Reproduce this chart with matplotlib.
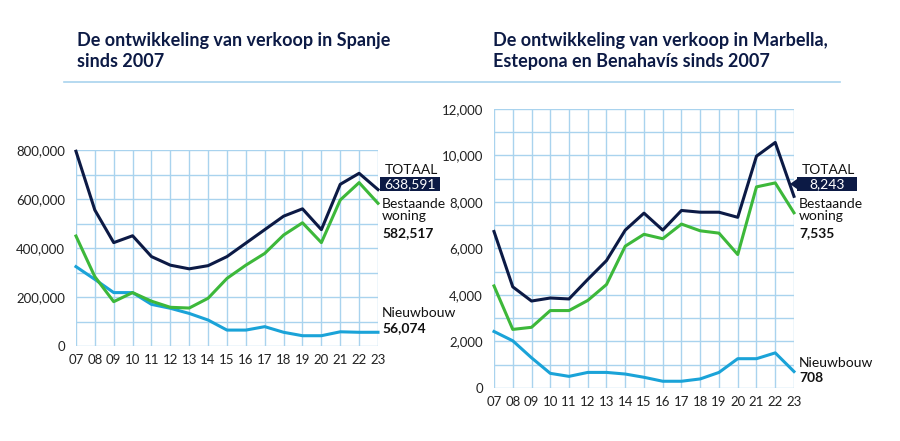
import matplotlib.pyplot as plt
import matplotlib.patches as mpatches

plt.rcParams['font.family'] = ['Lato', 'DejaVu Sans']

years = list(range(7, 24))
year_labels = ['07', '08', '09', '10', '11', '12', '13', '14', '15', '16',
               '17', '18', '19', '20', '21', '22', '23']

# Spanje
es_totaal = [795000, 555000, 422000, 450000, 365000, 330000, 315000, 328000, 365000,
             420000, 475000, 530000, 560000, 475000, 660000, 705000, 638591]
es_bestaand = [449000, 283000, 181000, 218000, 183000, 158000, 155000, 195000, 276000,
               330000, 378000, 453000, 503000, 422000, 596000, 667000, 582517]
es_nieuw = [324000, 272000, 218000, 218000, 170000, 154000, 133000, 106000, 65000,
            65000, 79000, 56000, 42000, 42000, 58000, 56000, 56074]

# Marbella, Estepona en Benahavis
mb_totaal = [6730, 4350, 3740, 3870, 3830, 4670, 5480, 6790, 7520,
             6790, 7635, 7560, 7560, 7340, 9970, 10560, 8243]
mb_bestaand = [4390, 2520, 2610, 3330, 3330, 3765, 4450, 6100, 6610,
               6420, 7050, 6760, 6660, 5740, 8650, 8820, 7535]
mb_nieuw = [2430, 2030, 1300, 630, 500, 670, 670, 600, 460,
            290, 290, 390, 670, 1260, 1260, 1510, 708]

NAVY = '#0c1a45'
GREEN = '#3db83a'
BLUE = '#1aa3d8'
GRID = '#a9d3ee'

fig = plt.figure(figsize=(9, 4.41), dpi=100)


def draw(ax, tot, best, nieuw, ymax, ystep, gstep):
    ax.set_xlim(7, 23)
    ax.set_ylim(0, ymax)
    ax.set_xticks(years)
    ax.set_xticklabels(year_labels)
    ax.set_yticks(range(0, ymax + 1, gstep), minor=True)
    ax.set_yticks(range(0, ymax + 1, ystep))
    ax.set_yticklabels([f'{v:,}' for v in range(0, ymax + 1, ystep)])
    ax.grid(True, which='both', color=GRID, lw=1.0)
    ax.tick_params(which='both', length=0, labelsize=9.5, labelcolor='#222222')
    ax.tick_params(axis='x', pad=6)
    ax.tick_params(axis='y', pad=8)
    for s in ax.spines.values():
        s.set_visible(False)
    ax.set_axisbelow(True)
    ax.plot(years, nieuw, color=BLUE, lw=2.2, clip_on=False)
    ax.plot(years, best, color=GREEN, lw=2.2, clip_on=False)
    ax.plot(years, tot, color=NAVY, lw=2.2, clip_on=False)


ax1 = fig.add_axes([0.0844, 0.2154, 0.3356, 0.4444])
draw(ax1, es_totaal, es_bestaand, es_nieuw, 800000, 200000, 100000)
ax2 = fig.add_axes([0.5489, 0.1202, 0.3333, 0.6327])
draw(ax2, mb_totaal, mb_bestaand, mb_nieuw, 12000, 2000, 1000)


def px(x, y):
    return x / 900, 1 - y / 441


def put_labels(x0, y_tot, y_best, y_nieuw, tot, best, nieuw, arrow=False):
    def t(x, y, s, **kw):
        fx, fy = px(x, y)
        fig.text(fx, fy, s, fontsize=10, color='#111111', va='center', **kw)
    t(x0 + 31, y_tot, 'TOTAAL', ha='center')
    # navy box with the total
    bx0, by0 = px(x0, y_tot + 21)
    fig.add_artist(mpatches.Rectangle((bx0, by0), 60 / 900, 14 / 441,
                                      transform=fig.transFigure, fc=NAVY, ec='none'))
    if arrow:
        tip = [px(x0 - 7, y_tot + 14), px(x0, y_tot + 9), px(x0, y_tot + 19)]
        fig.add_artist(mpatches.Polygon(tip, closed=True, transform=fig.transFigure,
                                        fc=NAVY, ec='none'))
    fx, fy = px(x0 + 30, y_tot + 14)
    fig.text(fx, fy, f'{tot:,}', fontsize=10, color='white', va='center', ha='center')
    t(x0 + 2, y_best, 'Bestaande\nwoning', linespacing=1.0)
    t(x0 + 2, y_best + 23, f'{best:,}', fontweight='bold')
    t(x0 + 2, y_nieuw, 'Nieuwbouw')
    t(x0 + 2, y_nieuw + 15, f'{nieuw:,}', fontweight='bold')


put_labels(380, 170, 210, 313, es_totaal[-1], es_bestaand[-1], es_nieuw[-1])
put_labels(797, 170, 210, 363, mb_totaal[-1], mb_bestaand[-1], mb_nieuw[-1], arrow=True)

# titles
fig.text(77 / 900, 1 - 51 / 441, 'De ontwikkeling van verkoop in Spanje\nsinds 2007',
         fontsize=13, fontweight='bold', color=NAVY, va='center', linespacing=1.3)
fig.text(493 / 900, 1 - 51 / 441,
         'De ontwikkeling van verkoop in Marbella,\nEstepona en Benahavís sinds 2007',
         fontsize=13, fontweight='bold', color=NAVY, va='center', linespacing=1.3)
fig.add_artist(plt.Line2D([64 / 900, 840 / 900], [1 - 82 / 441, 1 - 82 / 441],
                          color=GRID, lw=1.2))

fig.savefig('out.png', dpi=100)
